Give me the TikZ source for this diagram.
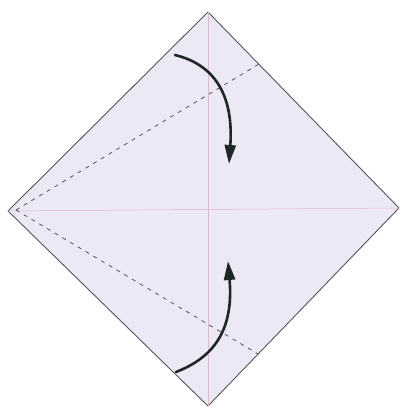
\documentclass[tikz,border=0pt]{standalone}
\usetikzlibrary{arrows.meta}
\definecolor{paper}{RGB}{236,232,246}
\definecolor{edge}{RGB}{85,85,90}
\definecolor{crease}{RGB}{220,185,205}
\definecolor{ink}{RGB}{30,38,38}
\tikzset{
  paperedge/.style={draw=edge, line width=0.9pt, fill=paper, line join=round},
  centerline/.style={draw=crease, line width=0.5pt},
  valley/.style={draw=edge, line width=0.8pt, dash pattern=on 4pt off 5pt},
  foldarrow/.style={draw=ink, line width=2.6pt, line cap=round, -{Triangle[length=19pt,width=11pt]}}
}
\begin{document}
\begin{tikzpicture}[x=1pt,y=-1pt]
\useasboundingbox (0,0) rectangle (401,408);
\coordinate (T) at (208,12);
\coordinate (R) at (399,208);
\coordinate (B) at (208,406);
\coordinate (L) at (8,211);
\coordinate (U) at (259,64);
\coordinate (D) at (258,354);
\coordinate (Ls) at (16,210);
\coordinate (a1s) at (175,55);
\coordinate (a1e) at (229,164);
\coordinate (a2s) at (176,372);
\coordinate (a2e) at (228,261);
\path[paperedge] (T) -- (R) -- (B) -- (L) -- cycle;
\draw[centerline] (T) -- (B);
\draw[centerline] (L) -- (R);
\draw[valley] (Ls) -- (U);
\draw[valley] (Ls) -- (D);
\draw[foldarrow] (a1s) .. controls (212,64) and (234,92) .. (a1e);
\draw[foldarrow] (a2s) .. controls (212,358) and (234,332) .. (a2e);
\end{tikzpicture}
\end{document}
